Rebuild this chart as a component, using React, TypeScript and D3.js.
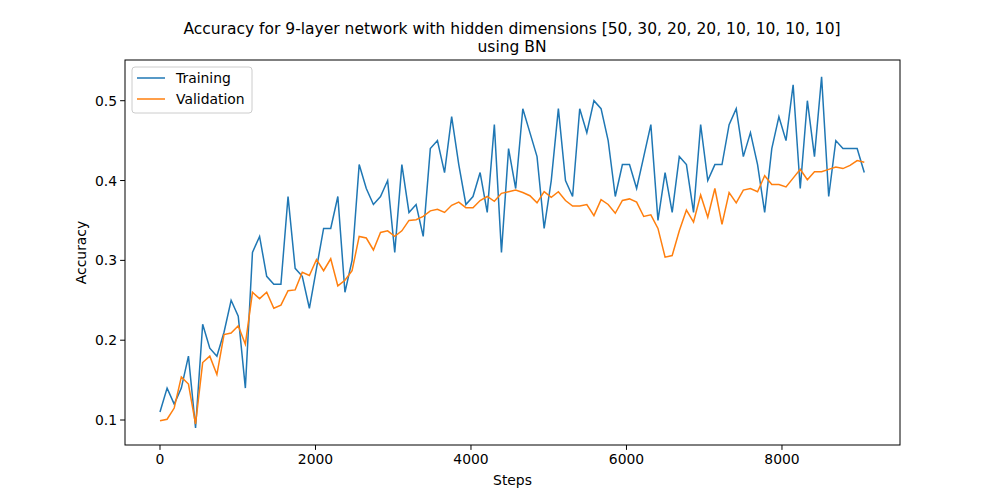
import * as d3 from "d3";

const stepSize = 91.5;
const training = [
  0.11, 0.14, 0.12, 0.14, 0.18, 0.09, 0.22, 0.19, 0.18, 0.21,
  0.25, 0.23, 0.14, 0.31, 0.33, 0.28, 0.27, 0.27, 0.38, 0.29,
  0.28, 0.24, 0.29, 0.34, 0.34, 0.38, 0.26, 0.3, 0.42, 0.39,
  0.37, 0.38, 0.4, 0.31, 0.42, 0.36, 0.37, 0.33, 0.44, 0.45,
  0.41, 0.48, 0.42, 0.37, 0.38, 0.41, 0.36, 0.47, 0.31, 0.44,
  0.39, 0.49, 0.46, 0.43, 0.34, 0.4, 0.49, 0.4, 0.38, 0.49,
  0.46, 0.5, 0.49, 0.45, 0.38, 0.42, 0.42, 0.39, 0.43, 0.47,
  0.35, 0.41, 0.36, 0.43, 0.42, 0.36, 0.47, 0.4, 0.42, 0.42,
  0.47, 0.49, 0.43, 0.46, 0.42, 0.36, 0.44, 0.48, 0.45, 0.52,
  0.39, 0.5, 0.43, 0.53, 0.38, 0.45, 0.44, 0.44, 0.44, 0.41,
];
const validation = [
  0.099, 0.101, 0.115, 0.154, 0.145, 0.095, 0.172, 0.18, 0.157, 0.207,
  0.209, 0.218, 0.195, 0.26, 0.252, 0.26, 0.24, 0.244, 0.262, 0.263,
  0.285, 0.281, 0.301, 0.287, 0.302, 0.268, 0.275, 0.287, 0.33, 0.328,
  0.313, 0.335, 0.337, 0.33, 0.337, 0.35, 0.351, 0.355, 0.362, 0.364,
  0.36, 0.369, 0.373, 0.366, 0.366, 0.375, 0.38, 0.374, 0.384, 0.386,
  0.388, 0.385, 0.381, 0.372, 0.386, 0.379, 0.386, 0.375, 0.368, 0.368,
  0.37, 0.356, 0.376, 0.37, 0.359, 0.375, 0.377, 0.373, 0.355, 0.357,
  0.34, 0.304, 0.306, 0.337, 0.363, 0.348, 0.382, 0.354, 0.39, 0.345,
  0.385, 0.372, 0.388, 0.39, 0.386, 0.406, 0.395, 0.395, 0.392, 0.403,
  0.414, 0.401, 0.411, 0.411, 0.414, 0.417, 0.415, 0.419, 0.425, 0.423,
];
const xTicks = [0, 2000, 4000, 6000, 8000];
const yTicks = [0.1, 0.2, 0.3, 0.4, 0.5];
const series = [
  { name: "Training", values: training, color: "#1f77b4" },
  { name: "Validation", values: validation, color: "#ff7f0e" },
];

const W = 1000, H = 500;
const L = 125, R = 900, T = 60, B = 445;
const font = "DejaVu Sans, sans-serif";

export default function App() {
  const x = d3.scaleLinear().domain([-450, 9518]).range([L, R]);
  const y = d3.scaleLinear().domain([0.0687, 0.551]).range([B, T]);
  const line = d3
    .line<number>()
    .x((_, i) => x(i * stepSize))
    .y((d) => y(d));

  return (
    <svg width={W} height={H} style={{ position: "absolute", left: 0, top: 0, fontFamily: font }}>
      <rect width={W} height={H} fill="#fff" />
      <text x={512} y={34} fontSize={15.5} textAnchor="middle">
        Accuracy for 9-layer network with hidden dimensions [50, 30, 20, 20, 10, 10, 10, 10]
      </text>
      <text x={512} y={52} fontSize={15.5} textAnchor="middle">using BN</text>
      <defs>
        <clipPath id="plot">
          <rect x={L} y={T} width={R - L} height={B - T} />
        </clipPath>
      </defs>
      <g clipPath="url(#plot)">
        {series.map((s) => (
          <path key={s.name} d={line(s.values) ?? ""} fill="none" stroke={s.color} strokeWidth={1.5} />
        ))}
      </g>
      <rect x={L} y={T} width={R - L} height={B - T} fill="none" stroke="#000" strokeWidth={1} />
      {xTicks.map((t) => (
        <g key={t}>
          <line x1={x(t)} x2={x(t)} y1={B} y2={B + 4.9} stroke="#000" />
          <text x={x(t)} y={B + 19} fontSize={13.9} textAnchor="middle">{t}</text>
        </g>
      ))}
      {yTicks.map((t) => (
        <g key={t}>
          <line x1={L - 4.9} x2={L} y1={y(t)} y2={y(t)} stroke="#000" />
          <text x={L - 8} y={y(t) + 5} fontSize={13.9} textAnchor="end">{t.toFixed(1)}</text>
        </g>
      ))}
      <text x={(L + R) / 2} y={485} fontSize={13.9} textAnchor="middle">Steps</text>
      <text transform={`translate(86,${(T + B) / 2}) rotate(-90)`} fontSize={13.9} textAnchor="middle">Accuracy</text>
      <rect x={132} y={67} width={120} height={46} rx={3} fill="#fff" fillOpacity={0.8} stroke="#ccc" />
      {series.map((s, i) => (
        <g key={s.name}>
          <line x1={137} x2={165} y1={78 + i * 21} y2={78 + i * 21} stroke={s.color} strokeWidth={1.5} />
          <text x={176} y={83 + i * 21} fontSize={13.9}>{s.name}</text>
        </g>
      ))}
    </svg>
  );
}
